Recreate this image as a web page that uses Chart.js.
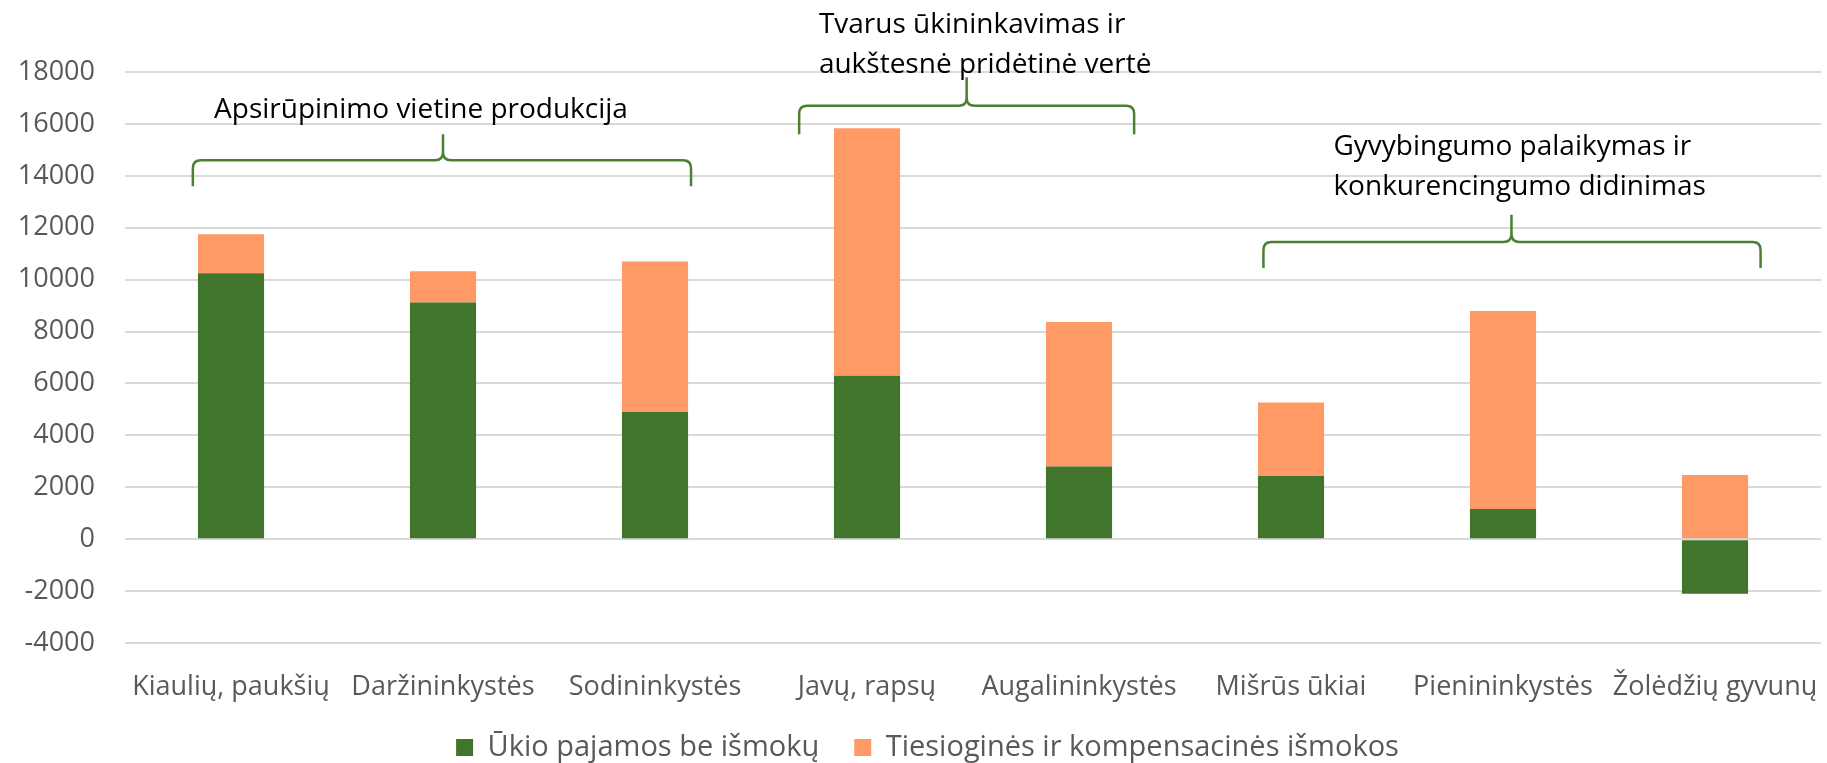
<!DOCTYPE html>
<html lang="lt">
<head>
<meta charset="utf-8">
<title>Ūkio pajamos</title>
<script src="https://cdn.jsdelivr.net/npm/chart.js@4.4.1/dist/chart.umd.min.js"></script>
<style>
  html, body { margin: 0; padding: 0; background: #fff; }
  #wrap { width: 1827px; height: 763px; position: relative; }
</style>
</head>
<body>
<div id="wrap"><canvas id="chart"></canvas></div>
<script>
// data
const categories = ["Kiaulių, paukšių", "Daržininkystės", "Sodininkystės", "Javų, rapsų",
    "Augalininkystės", "Mišrūs ūkiai", "Pienininkystės", "Žolėdžių gyvunų"];
const incomeNoPayments = [10250, 9120, 4900, 6300, 2800, 2430, 1160, -2100];
const directPayments = [1500, 1200, 5800, 9530, 5570, 2840, 7630, 2470];
const yTicks = [-4000, -2000, 0, 2000, 4000, 6000, 8000, 10000, 12000, 14000, 16000, 18000];
const seriesNames = ["Ūkio pajamos be išmokų", "Tiesioginės ir kompensacinės išmokos"];

// group labels with curly braces, placed in category / value units
const groupTexts = [
    ["Apsirūpinimo vietine produkcija"],
    ["Tvarus ūkininkavimas ir", "aukštesnė pridėtinė vertė"],
    ["Gyvybingumo palaikymas ir", "konkurencingumo didinimas"]
];
const groups = [
    { from: -0.18, to: 2.17, tip: 1.0, base: 13600, line: 14600, top: 15600, textX: -0.08, textY: 16550 },
    { from: 2.68, to: 4.26, tip: 3.47, base: 15600, line: 16700, top: 17800, textX: 2.773, textY: 19820 },
    { from: 4.87, to: 7.215, tip: 6.04, base: 10450, line: 11450, top: 12500, textX: 5.20, textY: 15125 }
];

const GREEN = "#41752b";
const ORANGE = "#ff9966";
const BRACE = "#4b7f32";

Chart.defaults.font.family = "'Open Sans', sans-serif";

const bracesPlugin = {
    id: "braces",
    afterDraw(chart) {
        const ctx = chart.ctx;
        const xs = chart.scales.x, ys = chart.scales.y;
        const r = 8;
        ctx.save();
        ctx.strokeStyle = BRACE;
        ctx.lineWidth = 2.5;
        ctx.lineJoin = "round";
        groups.forEach((g, i) => {
            const xl = xs.getPixelForValue(g.from);
            const xr = xs.getPixelForValue(g.to);
            const xm = xs.getPixelForValue(g.tip);
            const yb = ys.getPixelForValue(g.base);
            const yl = ys.getPixelForValue(g.line);
            const yt = ys.getPixelForValue(g.top);
            ctx.beginPath();
            ctx.moveTo(xl, yb);
            ctx.lineTo(xl, yl + r);
            ctx.quadraticCurveTo(xl, yl, xl + r, yl);
            ctx.lineTo(xm - r, yl);
            ctx.quadraticCurveTo(xm, yl, xm, yl - r);
            ctx.lineTo(xm, yt);
            ctx.moveTo(xr, yb);
            ctx.lineTo(xr, yl + r);
            ctx.quadraticCurveTo(xr, yl, xr - r, yl);
            ctx.lineTo(xm + r, yl);
            ctx.quadraticCurveTo(xm, yl, xm, yl - r);
            ctx.stroke();

            ctx.fillStyle = "#000";
            ctx.font = "28px 'Open Sans', sans-serif";
            ctx.textAlign = "left";
            ctx.textBaseline = "middle";
            const tx = xs.getPixelForValue(g.textX);
            const ty = ys.getPixelForValue(g.textY);
            groupTexts[i].forEach((t, k) => ctx.fillText(t, tx, ty + k * 40));
        });
        ctx.restore();
    }
};

// keep the legend box short and put its row where the reference has it
const legendPlace = {
    id: "legendPlace",
    beforeLayout(chart) {
        const lg = chart.legend;
        if (lg && !lg._shrunk) {
            const fit = lg.fit;
            lg.fit = function () { fit.call(this); this.height = 60; };
            lg._shrunk = true;
        }
    },
    afterLayout(chart) {
        const lg = chart.legend;
        const pad = lg.options.labels.padding;
        lg.top = 733 - pad;
        lg.bottom = chart.height;
        lg.left += 17;
        lg.right += 17;
    }
};

new Chart(document.getElementById("chart"), {
    type: "bar",
    data: {
        labels: categories,
        datasets: [
            { label: seriesNames[0], data: incomeNoPayments, backgroundColor: GREEN },
            { label: seriesNames[1], data: directPayments, backgroundColor: ORANGE }
        ]
    },
    options: {
        responsive: true,
        maintainAspectRatio: false,
        animation: false,
        datasets: { bar: { categoryPercentage: 1, barPercentage: 0.312 } },
        layout: { padding: { top: 72, left: 0, right: 6, bottom: 0 } },
        plugins: {
            tooltip: { enabled: false },
            legend: {
                position: "bottom",
                labels: {
                    color: "#595959",
                    font: { size: 29 },
                    boxWidth: 17,
                    boxHeight: 17,
                    padding: 35
                }
            }
        },
        scales: {
            x: {
                stacked: true,
                grid: { display: false, drawTicks: false },
                border: { display: false },
                ticks: { color: "#595959", font: { size: 27 }, padding: 28, maxRotation: 0, autoSkip: false },
                afterFit: s => { s.height = 60; s.paddingLeft = 0; s.paddingRight = 0; }
            },
            y: {
                stacked: true,
                min: yTicks[0],
                max: yTicks[yTicks.length - 1],
                afterBuildTicks: s => { s.ticks = yTicks.map(v => ({ value: v })); },
                grid: { color: "#d9d9d9", lineWidth: 2, drawTicks: false },
                border: { display: false },
                ticks: { color: "#595959", font: { size: 27 }, padding: 30, callback: v => String(v) },
                afterFit: s => { s.width = 125; }
            }
        }
    },
    plugins: [bracesPlugin, legendPlace]
});
</script>
</body>
</html>
